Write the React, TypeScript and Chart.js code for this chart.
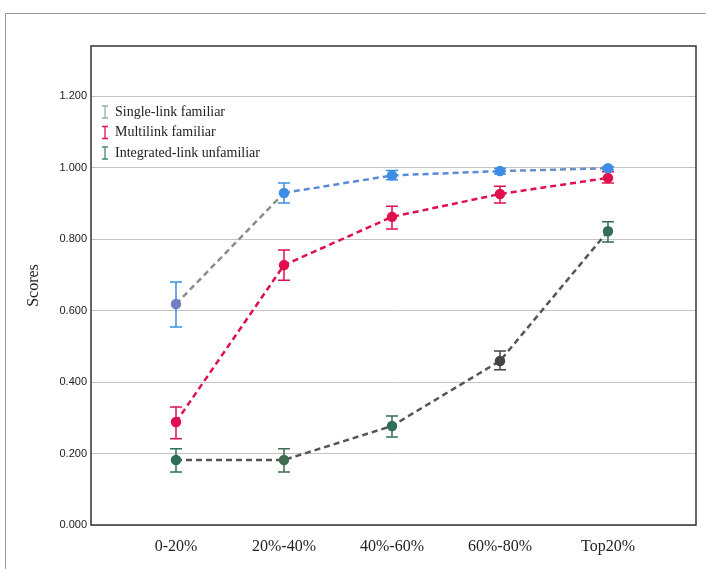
import React, { useEffect, useRef } from "react";
import { Chart, registerables } from "chart.js";
Chart.register(...registerables);

const categories = ["0-20%", "20%-40%", "40%-60%", "60%-80%", "Top20%"];
const yTickValues = [0, 0.2, 0.4, 0.6, 0.8, 1.0, 1.2];
const seriesNames = ["Single-link familiar", "Multilink familiar", "Integrated-link unfamiliar"];

const singleMean = [0.618, 0.929, 0.978, 0.99, 0.998];
const singleLow = [0.554, 0.901, 0.966, 0.982, 0.994];
const singleHigh = [0.68, 0.957, 0.992, 0.998, 1.002];

const multiMean = [0.288, 0.727, 0.862, 0.926, 0.971];
const multiLow = [0.241, 0.685, 0.828, 0.901, 0.957];
const multiHigh = [0.33, 0.769, 0.892, 0.948, 0.988];

const integMean = [0.182, 0.182, 0.277, 0.459, 0.822];
const integLow = [0.148, 0.148, 0.246, 0.434, 0.792];
const integHigh = [0.213, 0.213, 0.305, 0.487, 0.848];

const singlePointColors = ["#7080c0", "#3d8de6", "#3d8de6", "#3d8de6", "#3d8de6"];
const singleBarColors = ["#3a8fe0", "#3a8fe0", "#3a8fe0", "#3a8fe0", "#3a8fe0"];
const singleSegColors = ["#8c8c8c", "#5a8ad8", "#5a8ad8", "#6a8ec8"];
const multiColor = "#e0104f";
const integPointColors = ["#2f6f58", "#3f6e50", "#2f6f58", "#444444", "#2f6f58"];
const integBarColors = ["#2f6f58", "#3f6e50", "#2f6f58", "#444444", "#2f6f58"];
const legendGlyphColors = ["#8fb5ab", "#e0104f", "#3f8a70"];

const errorBars = [
  { low: singleLow, high: singleHigh, colors: singleBarColors },
  { low: multiLow, high: multiHigh, colors: categories.map(() => multiColor) },
  { low: integLow, high: integHigh, colors: integBarColors },
];

export default function App() {
  const ref = useRef<HTMLCanvasElement | null>(null);
  useEffect(() => {
    if (!ref.current) return;
    const framePlugin = {
      id: "frame",
      beforeDraw(chart: any) {
        const ctx = chart.ctx;
        ctx.save();
        ctx.fillStyle = "#ffffff";
        ctx.fillRect(0, 0, chart.width, chart.height);
        ctx.strokeStyle = "#9a9a9a";
        ctx.lineWidth = 1;
        ctx.beginPath();
        ctx.moveTo(5.5, chart.height);
        ctx.lineTo(5.5, 13.5);
        ctx.lineTo(chart.width, 13.5);
        ctx.stroke();
        ctx.restore();
      },
      beforeDatasetsDraw(chart: any) {
        const ctx = chart.ctx;
        const xs = chart.scales.x;
        const ys = chart.scales.y;
        ctx.save();
        errorBars.forEach((eb) => {
          eb.low.forEach((lo, i) => {
            const x = xs.getPixelForValue(i);
            const y1 = ys.getPixelForValue(lo);
            const y2 = ys.getPixelForValue(eb.high[i]);
            ctx.strokeStyle = eb.colors[i];
            ctx.lineWidth = 1.5;
            ctx.beginPath();
            ctx.moveTo(x, y1);
            ctx.lineTo(x, y2);
            ctx.moveTo(x - 6, y1);
            ctx.lineTo(x + 6, y1);
            ctx.moveTo(x - 6, y2);
            ctx.lineTo(x + 6, y2);
            ctx.stroke();
          });
        });
        ctx.restore();
      },
      afterDraw(chart: any) {
        const ctx = chart.ctx;
        const a = chart.chartArea;
        ctx.save();
        ctx.strokeStyle = "#333333";
        ctx.lineWidth = 1.5;
        ctx.strokeRect(a.left, a.top, a.right - a.left, a.bottom - a.top);
        // legend
        ctx.font = "14px 'Liberation Serif'";
        ctx.textBaseline = "middle";
        seriesNames.forEach((name, i) => {
          const y = 112 + i * 20.5;
          const gx = 105;
          ctx.strokeStyle = legendGlyphColors[i];
          ctx.lineWidth = 1.3;
          ctx.beginPath();
          ctx.moveTo(gx, y - 6);
          ctx.lineTo(gx, y + 6);
          ctx.moveTo(gx - 3, y - 6);
          ctx.lineTo(gx + 3, y - 6);
          ctx.moveTo(gx - 3, y + 6);
          ctx.lineTo(gx + 3, y + 6);
          ctx.stroke();
          ctx.fillStyle = "#222222";
          ctx.fillText(name, 115, y);
        });
        ctx.restore();
      },
    };

    const mk = (vals: number[]) => vals.map((v, i) => ({ x: i, y: v }));
    const chart = new Chart(ref.current, {
      type: "line",
      data: {
        datasets: [
          {
            label: seriesNames[0],
            data: mk(singleMean),
            borderColor: "#5a8ad8",
            borderWidth: 2.5,
            borderDash: [6, 4],
            pointBackgroundColor: singlePointColors,
            pointBorderColor: singlePointColors,
            pointRadius: 4,
            segment: { borderColor: (c: any) => singleSegColors[c.p0DataIndex] },
          },
          {
            label: seriesNames[1],
            data: mk(multiMean),
            borderColor: multiColor,
            borderWidth: 2.5,
            borderDash: [6, 4],
            pointBackgroundColor: multiColor,
            pointBorderColor: multiColor,
            pointRadius: 4,
          },
          {
            label: seriesNames[2],
            data: mk(integMean),
            borderColor: "#555555",
            borderWidth: 2.5,
            borderDash: [6, 4],
            pointBackgroundColor: integPointColors,
            pointBorderColor: integPointColors,
            pointRadius: 4,
          },
        ],
      },
      options: {
        responsive: false,
        animation: false,
        layout: { padding: { left: 0, top: 46, right: 10, bottom: 0 } },
        plugins: { legend: { display: false }, tooltip: { enabled: false } },
        scales: {
          x: {
            type: "linear",
            min: -0.787,
            max: 4.815,
            afterBuildTicks: (axis: any) => {
              axis.ticks = categories.map((_, i) => ({ value: i }));
            },
            afterFit: (s: any) => {
              s.height = 44;
            },
            grid: { display: false, drawTicks: false },
            border: { display: false },
            ticks: {
              autoSkip: false,
              maxRotation: 0,
              padding: 12,
              color: "#222222",
              font: { family: "'Liberation Serif'", size: 16 },
              callback: (v: any) => categories[v] ?? "",
            },
          },
          y: {
            type: "linear",
            min: 0,
            max: 1.34,
            afterBuildTicks: (axis: any) => {
              axis.ticks = yTickValues.map((v) => ({ value: v }));
            },
            afterFit: (s: any) => {
              s.width = 91;
            },
            grid: { color: "#c4c4c4", lineWidth: 1, drawTicks: false },
            border: { display: false },
            ticks: {
              padding: 4,
              color: "#222222",
              font: { family: "'Liberation Sans'", size: 11 },
              callback: (v: any) => Number(v).toFixed(3),
            },
            title: {
              display: true,
              text: "Scores",
              color: "#222222",
              font: { family: "'Liberation Serif'", size: 16 },
              padding: { top: 24, bottom: 0 },
            },
          },
        },
      },
      plugins: [framePlugin],
    } as any);
    return () => chart.destroy();
  }, []);
  return (
    <div style={{ position: "absolute", left: 0, top: 0, width: 706, height: 569 }}>
      <canvas ref={ref} width={706} height={569} style={{ display: "block" }} />
    </div>
  );
}
